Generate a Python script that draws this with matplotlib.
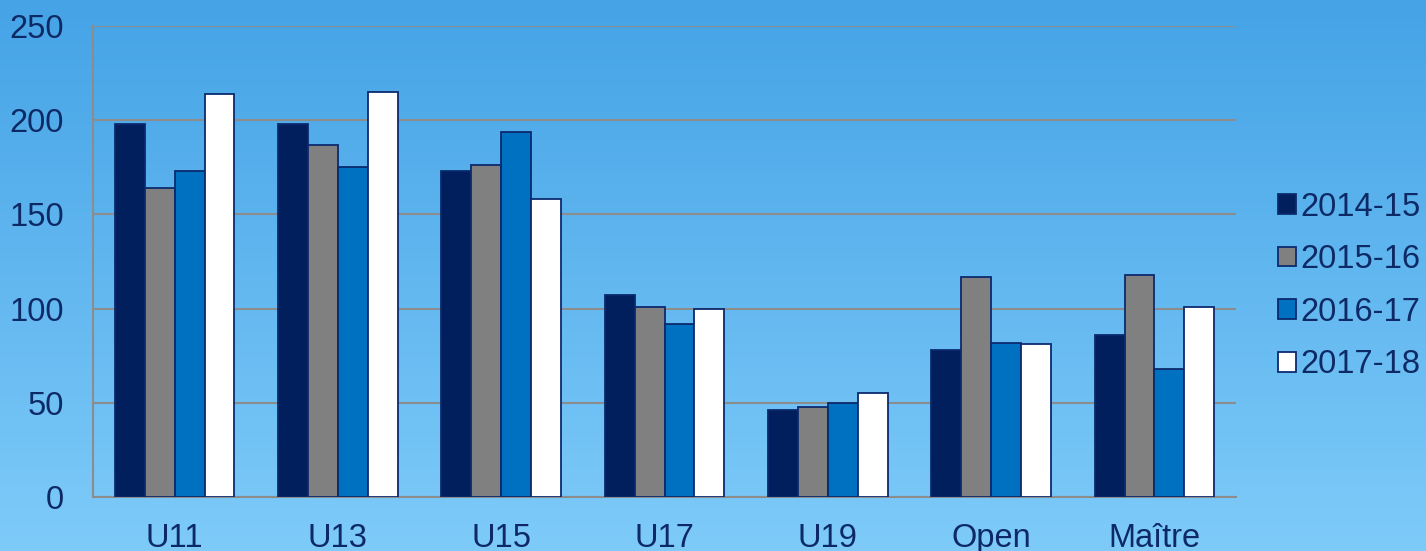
import matplotlib.pyplot as plt
import numpy as np
from matplotlib.colors import LinearSegmentedColormap

# Data
categories = ['U11', 'U13', 'U15', 'U17', 'U19', 'Open', 'Maître']
seasons = ['2014-15', '2015-16', '2016-17', '2017-18']
s2014 = [198, 198, 173, 107, 46, 78, 86]
s2015 = [164, 187, 176, 101, 48, 117, 118]
s2016 = [173, 175, 194, 92, 50, 82, 68]
s2017 = [214, 215, 158, 100, 55, 81, 101]
yticks = [0, 50, 100, 150, 200, 250]

series = [s2014, s2015, s2016, s2017]
colors = ['#001f5c', '#808080', '#0070c0', '#ffffff']
edge = '#0b2a6e'
text_col = '#0d2a66'

plt.rcParams['font.family'] = ['Liberation Sans', 'DejaVu Sans']

fig = plt.figure(figsize=(14.26, 5.51), dpi=100)

# gradient background
bg = fig.add_axes([0, 0, 1, 1], zorder=-10)
grad = np.linspace(0, 1, 256).reshape(-1, 1)
cmap = LinearSegmentedColormap.from_list('bg', ['#45a3e6', '#7ecbf9'])
bg.imshow(grad, aspect='auto', cmap=cmap, extent=[0, 1, 0, 1], origin='upper')
bg.axis('off')

ax = fig.add_axes([0.0652, 0.098, 0.8016, 0.8548])
ax.patch.set_alpha(0)

x = np.arange(len(categories))
w = 0.183
for i, (vals, c) in enumerate(zip(series, colors)):
    ax.bar(x + (i - 1.5) * w, vals, width=w, color=c, edgecolor=edge,
           linewidth=1.3, label=seasons[i], zorder=3)

ax.set_xlim(-0.5, len(categories) - 0.5)
ax.set_ylim(0, 250)
ax.set_yticks(yticks)
ax.set_xticks(x)
ax.set_xticklabels(categories)
ax.yaxis.grid(True, color='#8c8c8c', linewidth=1.5, zorder=0)
ax.tick_params(axis='both', length=0, labelsize=23.5, colors=text_col)
ax.tick_params(axis='y', pad=21)
ax.tick_params(axis='x', pad=18.5)
for s in ['top', 'right']:
    ax.spines[s].set_visible(False)
for s in ['left', 'bottom']:
    ax.spines[s].set_color('#8c8c8c')
    ax.spines[s].set_linewidth(1.5)

leg = fig.legend(loc='center left', bbox_to_anchor=(0.887, 0.481), frameon=False,
                 fontsize=23.5, handlelength=0.55, handleheight=0.55,
                 handletextpad=0.15, labelspacing=0.66, borderaxespad=0)
for t in leg.get_texts():
    t.set_color(text_col)

fig.savefig('out.png', dpi=100)
